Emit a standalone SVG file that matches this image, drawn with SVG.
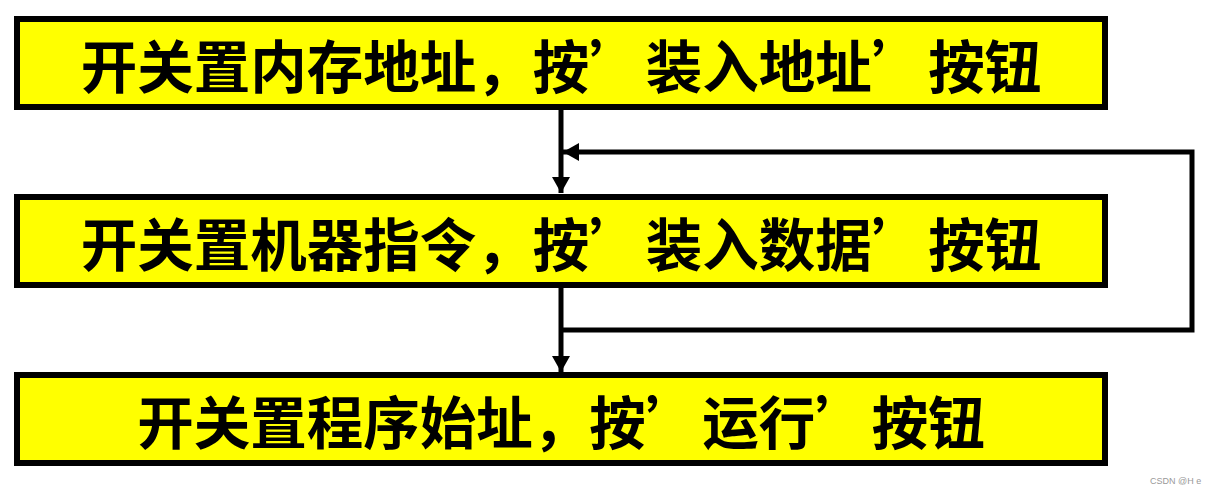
<svg xmlns="http://www.w3.org/2000/svg" width="1214" height="494" viewBox="0 0 1214 494">
<style>
.box{fill:#ffff00;stroke:#000;stroke-width:6}
.lbl{font-family:"Noto Sans CJK SC","Noto Sans CJK JP",sans-serif;font-weight:bold;font-size:56.5px;fill:#000;text-anchor:middle;dominant-baseline:central}
.ln{fill:none;stroke:#000;stroke-width:5}
.wm{font-family:"Liberation Sans",Arial,sans-serif;font-size:9px;fill:#999}
</style>
<defs>
<marker id="ah" viewBox="0 0 16 18" refX="16" refY="9" markerWidth="16" markerHeight="18" markerUnits="userSpaceOnUse" orient="auto">
<path d="M0,0 L16,9 L0,18 Z" fill="#000"/>
</marker>
</defs>
<rect width="1214" height="494" fill="#fff"/>
<g id="connectors">
<line class="ln" x1="561" y1="110" x2="561" y2="193" marker-end="url(#ah)"/>
<polyline class="ln" points="561,330 1192,330 1192,152 563,152" marker-end="url(#ah)"/>
<line class="ln" x1="561" y1="288" x2="561" y2="372" marker-end="url(#ah)"/>
</g>
<g id="node1">
<rect class="box" x="17" y="19" width="1088" height="88"/>
<text class="lbl" x="561" y="63">开关置内存地址，按’装入地址’按钮</text>
</g>
<g id="node2">
<rect class="box" x="17" y="197" width="1088" height="88"/>
<text class="lbl" x="561" y="241">开关置机器指令，按’装入数据’按钮</text>
</g>
<g id="node3">
<rect class="box" x="17" y="375" width="1088" height="88"/>
<text class="lbl" x="561" y="419">开关置程序始址，按’运行’按钮</text>
</g>
<text class="wm" x="1150" y="484">CSDN @H e</text>
</svg>
